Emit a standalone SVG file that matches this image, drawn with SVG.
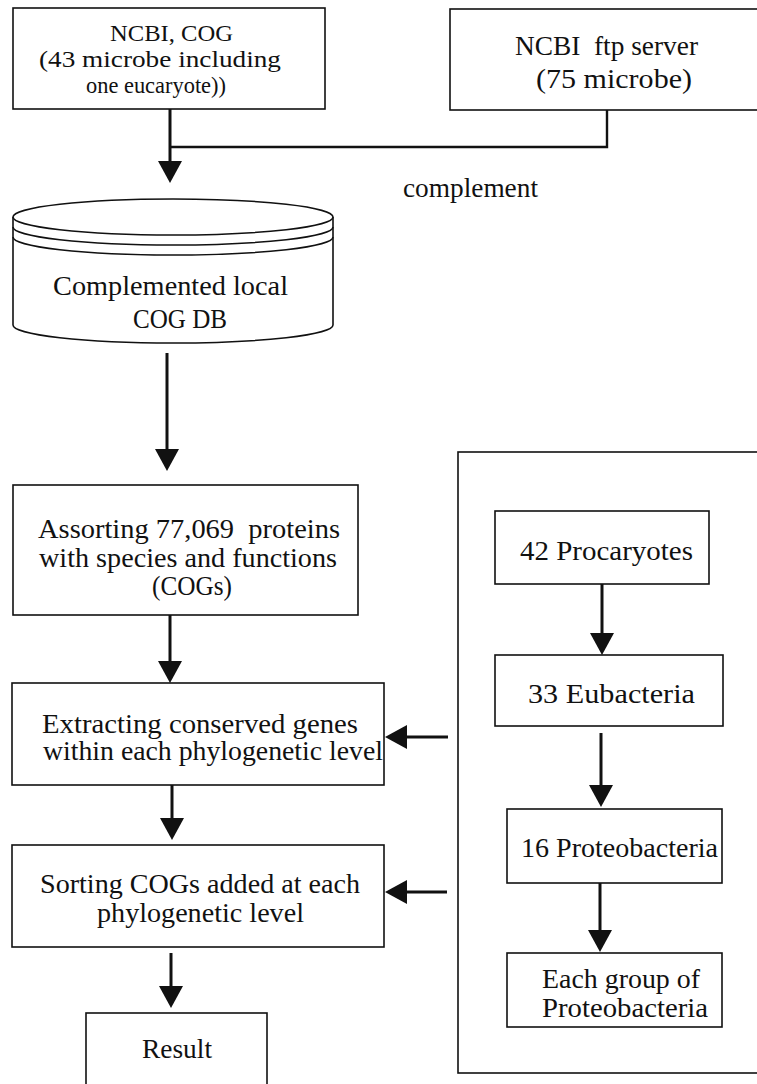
<svg xmlns="http://www.w3.org/2000/svg" width="757" height="1084" viewBox="0 0 757 1084">
<style>
.box{fill:#fff;stroke:#111;stroke-width:1.6}
.t{font-family:"Liberation Serif","Times New Roman",serif;font-size:27px;fill:#111}
.s{font-size:23px}
.c{fill:none;stroke:#111;stroke-width:3}
.thin{fill:none;stroke:#111;stroke-width:2.4}
</style>
<defs>
<marker id="ah" viewBox="0 0 22 24" markerWidth="22" markerHeight="24" refX="0" refY="12" orient="auto" markerUnits="userSpaceOnUse">
<path d="M0,0 L22,12 L0,24 Z" fill="#111"/>
</marker>
</defs>
<rect width="757" height="1084" fill="#fff"/>

<g id="outer-panel">
<rect class="box" x="458" y="452" width="320" height="621"/>
</g>

<g id="ncbi-cog">
<rect class="box" x="13" y="8" width="312" height="101"/>
<text class="t s" x="110" y="41" textLength="123" lengthAdjust="spacingAndGlyphs">NCBI, COG</text>
<text class="t s" x="39" y="67" textLength="242" lengthAdjust="spacingAndGlyphs">(43 microbe including</text>
<text class="t s" x="86" y="93" textLength="140" lengthAdjust="spacingAndGlyphs">one eucaryote))</text>
</g>

<g id="ncbi-ftp">
<rect class="box" x="450" y="9" width="320" height="101"/>
<text class="t" x="515" y="55" textLength="183" lengthAdjust="spacingAndGlyphs" xml:space="preserve">NCBI  ftp server</text>
<text class="t" x="536" y="88" textLength="156" lengthAdjust="spacingAndGlyphs">(75 microbe)</text>
</g>

<g id="complement-label">
<text class="t" x="403" y="197" textLength="135" lengthAdjust="spacingAndGlyphs">complement</text>
</g>

<g id="local-cog-db">
<path class="box" d="M13,217 L13,325 A160,18 0 0 0 333,325 L333,217"/>
<ellipse class="box" cx="173" cy="217" rx="160" ry="18"/>
<path class="box" d="M13,227 A160,18 0 0 0 333,227" style="fill:none"/>
<path class="box" d="M13,237 A160,18 0 0 0 333,237" style="fill:none"/>
<text class="t" x="53" y="295" textLength="235" lengthAdjust="spacingAndGlyphs">Complemented local</text>
<text class="t" x="133" y="328" textLength="94" lengthAdjust="spacingAndGlyphs">COG DB</text>
</g>

<g id="assorting">
<rect class="box" x="13" y="485" width="345" height="130"/>
<text class="t" x="38" y="538" textLength="302" lengthAdjust="spacingAndGlyphs" xml:space="preserve">Assorting 77,069  proteins</text>
<text class="t" x="39" y="567" textLength="298" lengthAdjust="spacingAndGlyphs">with species and functions</text>
<text class="t" x="152" y="595" textLength="80" lengthAdjust="spacingAndGlyphs">(COGs)</text>
</g>

<g id="extracting">
<rect class="box" x="12" y="683" width="372" height="102"/>
<text class="t" x="42" y="733" textLength="316" lengthAdjust="spacingAndGlyphs">Extracting conserved genes</text>
<text class="t" x="43" y="760" textLength="340" lengthAdjust="spacingAndGlyphs">within each phylogenetic level</text>
</g>

<g id="sorting">
<rect class="box" x="12" y="845" width="372" height="102"/>
<text class="t" x="40" y="893" textLength="320" lengthAdjust="spacingAndGlyphs">Sorting COGs added at each</text>
<text class="t" x="97" y="922" textLength="207" lengthAdjust="spacingAndGlyphs">phylogenetic level</text>
</g>

<g id="result">
<rect class="box" x="86" y="1013" width="181" height="80"/>
<text class="t" x="142" y="1058" textLength="70" lengthAdjust="spacingAndGlyphs">Result</text>
</g>

<g id="procaryotes">
<rect class="box" x="495" y="511" width="214" height="73"/>
<text class="t" x="520" y="560" textLength="173" lengthAdjust="spacingAndGlyphs">42 Procaryotes</text>
</g>

<g id="eubacteria">
<rect class="box" x="495" y="655" width="228" height="71"/>
<text class="t" x="528" y="703" textLength="167" lengthAdjust="spacingAndGlyphs">33 Eubacteria</text>
</g>

<g id="proteobacteria">
<rect class="box" x="507" y="809" width="215" height="74"/>
<text class="t" x="521" y="857" textLength="197" lengthAdjust="spacingAndGlyphs">16 Proteobacteria</text>
</g>

<g id="each-group">
<rect class="box" x="507" y="953" width="215" height="74"/>
<text class="t" x="542" y="988" textLength="158" lengthAdjust="spacingAndGlyphs">Each group of</text>
<text class="t" x="542" y="1017" textLength="166" lengthAdjust="spacingAndGlyphs">Proteobacteria</text>
</g>

<g id="connectors">
<polyline class="thin" points="607,110 607,147 170,147"/>
<line class="c" x1="170" y1="109" x2="170" y2="161" marker-end="url(#ah)"/>
<line class="c" x1="167" y1="353" x2="167" y2="449" marker-end="url(#ah)"/>
<line class="c" x1="170" y1="615" x2="170" y2="661" marker-end="url(#ah)"/>
<line class="c" x1="172" y1="785" x2="172" y2="818" marker-end="url(#ah)"/>
<line class="c" x1="171" y1="953" x2="171" y2="986" marker-end="url(#ah)"/>
<line class="c" x1="602" y1="584" x2="602" y2="633" marker-end="url(#ah)"/>
<line class="c" x1="601" y1="733" x2="601" y2="785" marker-end="url(#ah)"/>
<line class="c" x1="600" y1="883" x2="600" y2="930" marker-end="url(#ah)"/>
<line class="c" x1="448" y1="737" x2="407" y2="737" marker-end="url(#ah)"/>
<line class="c" x1="447" y1="892" x2="407" y2="892" marker-end="url(#ah)"/>
</g>
</svg>
